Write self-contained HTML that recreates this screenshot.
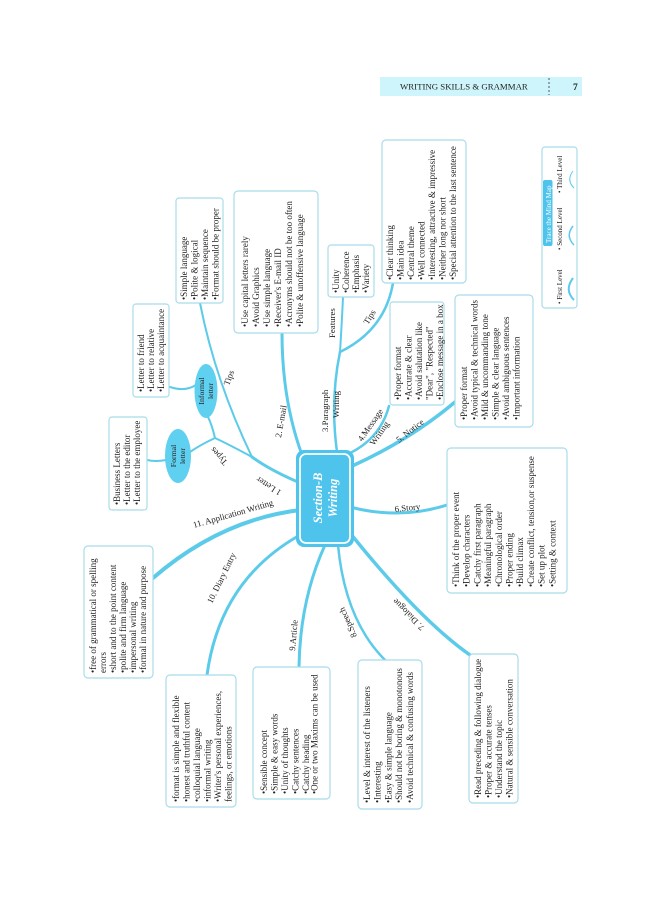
<!DOCTYPE html>
<html><head><meta charset="utf-8"><style>
html,body{margin:0;padding:0;background:#fff;width:660px;height:900px;overflow:hidden}
svg{display:block}
text{font-family:"Liberation Serif",serif;fill:#222}
.b text{font-size:9px}
.box{fill:#fff;stroke:#a9dcea;stroke-width:1.2}
.ln{fill:none;stroke:#5ccbea;stroke-linecap:round}
.lb{font-size:8.8px}
</style></head><body>
<svg width="660" height="900" viewBox="0 0 660 900">
<rect x="380" y="77" width="202" height="19" fill="#cdf5fb"/>
<text x="400" y="89.5" font-size="8.8" fill="#111">WRITING SKILLS &amp; GRAMMAR</text>
<line x1="549" y1="78" x2="549" y2="95" stroke="#333" stroke-width="0.8" stroke-dasharray="2,2"/>
<text x="573" y="90" font-size="9.5" font-weight="bold" fill="#111">7</text>

<g class="ln">
<path d="M300 510 Q220 520 153 578" stroke-width="4"/>
<path d="M300 535 Q220 580 207 675" stroke-width="3"/>
<path d="M325 545 Q300 600 299 667" stroke-width="3"/>
<path d="M338 545 Q345 620 385 660" stroke-width="2.5"/>
<path d="M350 533 Q420 620 470 655" stroke-width="3.5"/>
<path d="M350 507 Q400 520 447 505" stroke-width="3"/>
<path d="M350 467 Q410 440 455 402" stroke-width="3.5"/>
<path d="M346 455 Q380 440 389 406" stroke-width="2.5"/>
<path d="M337 452 Q330 400 340 352" stroke-width="2.5"/>
<path d="M340 352 Q342 320 343 297" stroke-width="2"/>
<path d="M340 352 Q385 330 393 283" stroke-width="2.5"/>
<path d="M302 455 Q282 400 282 333" stroke-width="3"/>
<path d="M298 482 Q270 470 252 457" stroke-width="3"/>
<path d="M252 457 Q215 380 200 303" stroke-width="2"/>
<path d="M252 457 Q230 445 215 438" stroke-width="2"/>
<path d="M215 438 Q212 425 208 417" stroke-width="2"/>
<path d="M215 438 Q200 445 190 452" stroke-width="2"/>
<path d="M196 385 Q185 392 170 387" stroke-width="2"/>
<path d="M166 460 Q155 462 147 460" stroke-width="2"/>
</g>
<ellipse cx="206" cy="391" rx="11.5" ry="27" fill="#5fd0f0"/>
<ellipse cx="178" cy="456" rx="13" ry="27" fill="#5fd0f0"/>
<g transform="translate(205,391) rotate(-90)"><text x="0" y="-1" font-size="7.8" text-anchor="middle">Informal</text><text x="0" y="8" font-size="7.8" text-anchor="middle">letter</text></g>
<g transform="translate(177,456) rotate(-90)"><text x="0" y="-1" font-size="7.8" text-anchor="middle">Formal</text><text x="0" y="8" font-size="7.8" text-anchor="middle">letter</text></g>

<rect x="296" y="450" width="58" height="97" rx="8" fill="#4ec3ec"/>
<rect x="300" y="454" width="50" height="89" rx="6" fill="#4ec3ec" stroke="#fff" stroke-width="1.8"/>
<g transform="translate(322,498) rotate(-90)"><text x="0" y="0" text-anchor="middle" font-size="12.5" font-weight="bold" font-style="italic" style="fill:#fff">Section-B</text><text x="0" y="15" text-anchor="middle" font-size="12.5" font-weight="bold" font-style="italic" style="fill:#fff">Writing</text></g>

<g class="lb">
<text transform="translate(194,528) rotate(-16)">11. Application Writing</text>
<text transform="translate(212,604) rotate(-64)">10. Diary Entry</text>
<text transform="translate(295,651) rotate(-85)">9.Article</text>
<text transform="translate(357,636) rotate(-114)">8.Speech</text>
<text transform="translate(425,627) rotate(-135)">7. Dialogue</text>
<text transform="translate(395,512) rotate(-6)">6.Story</text>
<text transform="translate(399,443) rotate(-38)">5. Notice</text>
<text transform="translate(362,442) rotate(-55)">4.Message</text>
<text transform="translate(374,446) rotate(-55)">Writing</text>
<text transform="translate(328,432) rotate(-90)">3.Paragraph</text>
<text transform="translate(339,418) rotate(-90)">Writing</text>
<text transform="translate(335,338) rotate(-90)">Features</text>
<text transform="translate(368,325) rotate(-58)">Tips</text>
<text transform="translate(281,438) rotate(-80)">2. E-mail</text>
<text transform="translate(282,491) rotate(-148)">1 Letter</text>
<text transform="translate(228,462) rotate(-132)">Types</text>
<text transform="translate(229,386) rotate(-70)">Tips</text>
</g>

<g class="b">
<rect class="box" x="382" y="140" width="84" height="143" rx="4"/>
<g transform="translate(385,280) rotate(-90)">
<text y="8">•Clear thinking</text><text y="18.5">•Main idea</text><text y="29">•Central theme</text><text y="39.5">•Well connected</text><text y="50">•Interesting, attractive &amp; impressive</text><text y="60.5">•Neither long nor short</text><text y="71">•Special attention to the last sentence</text></g>

<rect class="box" x="328" y="245" width="46" height="52" rx="3"/>
<g transform="translate(331,293) rotate(-90)">
<text y="8">•Unity</text><text y="18">•Coherence</text><text y="28">•Emphasis</text><text y="38">•Variety</text></g>

<rect class="box" x="234" y="191" width="84" height="142" rx="4"/>
<g transform="translate(240,327) rotate(-90)">
<text y="8">•Use capital letters rarely</text><text y="19">•Avoid Graphics</text><text y="30">•Use simple language</text><text y="41">•Receiver's E-mail ID</text><text y="52">•Acronyms should not be too often</text><text y="63">•Polite &amp; unoffensive language</text></g>

<rect class="box" x="176" y="198" width="47" height="105" rx="3"/>
<g transform="translate(179,300) rotate(-90)">
<text y="8">•Simple language</text><text y="18.5">•Polite &amp; logical</text><text y="29">•Maintain sequence</text><text y="39.5">•Format should be proper</text></g>

<rect class="box" x="133" y="304" width="36" height="93" rx="3"/>
<g transform="translate(136,392) rotate(-90)">
<text y="8">•Letter to friend</text><text y="18">•Letter to relative</text><text y="28">•Letter to acquaintance</text></g>

<rect class="box" x="109" y="417" width="38" height="93" rx="3"/>
<g transform="translate(112,505) rotate(-90)">
<text y="8">•Business Letters</text><text y="18">•Letter to the editor</text><text y="28">•Letter to the employee</text></g>

<rect class="box" x="390" y="302" width="54" height="103" rx="3"/>
<g transform="translate(393,400) rotate(-90)">
<text y="8">•Proper format</text><text y="18.5">•Accurate &amp; clear</text><text y="29">•Avoid salutation  like</text><text y="39.5">  "Dear", "Respected"</text><text y="50">•Enclose message in a box</text></g>

<rect class="box" x="455" y="295" width="78" height="132" rx="4"/>
<g transform="translate(459,420) rotate(-90)">
<text y="8">•Proper format</text><text y="18.5">•Avoid typical &amp; technical words</text><text y="29">•Mild &amp; uncommanding tone</text><text y="39.5">•Simple &amp; clear language</text><text y="50">•Avoid ambiguous sentences</text><text y="60.5">•Important information</text></g>

<rect class="box" x="447" y="448" width="120" height="145" rx="4"/>
<g transform="translate(451,587) rotate(-90)">
<text y="8">•Think of the proper event</text><text y="18.7">•Develop characters</text><text y="29.4">•Catchy first paragraph</text><text y="40.1">•Meaningful paragraph</text><text y="50.8">•Chronological order</text><text y="61.5">•Proper ending</text><text y="72.2">•Build climax</text><text y="82.9">•Create conflict, tension,or suspense</text><text y="93.6">•Set up plot</text><text y="104.3">•Setting &amp; context</text></g>

<rect class="box" x="84" y="546" width="69" height="132" rx="4"/>
<g transform="translate(88,673) rotate(-90)">
<text y="8">•free of grammatical or spelling</text><text y="18">   errors</text><text y="28">•short and to the point content</text><text y="38">•polite and firm language</text><text y="48">•impersonal writing</text><text y="58">•formal in nature and purpose</text></g>

<rect class="box" x="166" y="675" width="70" height="132" rx="4"/>
<g transform="translate(171,802) rotate(-90)">
<text y="8">•format is simple and flexible</text><text y="18.5">•honest and truthful content</text><text y="29">•colloquial language</text><text y="39.5">•informal writing</text><text y="50">•Writer's personal experiences,</text><text y="60.5">  feelings, or emotions</text></g>

<rect class="box" x="253" y="667" width="77" height="132" rx="4"/>
<g transform="translate(259,794) rotate(-90)">
<text y="8">•Sensible concept</text><text y="18.5">•Simple &amp; easy words</text><text y="29">•Unity of thoughts</text><text y="39.5">•Catchy sentences</text><text y="50">•Catchy heading</text><text y="58.5">•One or two Maxims can be used</text></g>

<rect class="box" x="358" y="660" width="64" height="149" rx="4"/>
<g transform="translate(362,803) rotate(-90)">
<text y="8">•Level &amp; interest of the listeners</text><text y="18.7">•Interesting</text><text y="29.4">•Easy &amp; simple language</text><text y="40.1">•Should not be boring &amp; monotonous</text><text y="50.8">•Avoid technical &amp; confusing words</text></g>

<rect class="box" x="469" y="654" width="49" height="149" rx="4"/>
<g transform="translate(473,798) rotate(-90)">
<text y="8">•Read preceding &amp; following dialogue</text><text y="18.5">•Proper &amp; accurate tenses</text><text y="29">•Understand the topic</text><text y="39.5">•Natural &amp; sensible conversation</text></g>
</g>

<rect class="box" x="542" y="147" width="35" height="161" rx="3"/>
<rect x="543" y="180" width="9.5" height="66" rx="2" fill="#4ec3ec"/>
<g transform="translate(550.8,243) rotate(-90)"><text font-size="7" style="fill:#fff">Trace the  Mind Map</text></g>
<g transform="translate(562,304) rotate(-90)"><text font-size="7">• First Level</text></g>
<g transform="translate(562,250) rotate(-90)"><text font-size="7">• Second Level</text></g>
<g transform="translate(562,193) rotate(-90)"><text font-size="7">• Third Level</text></g>
<path d="M574 300 Q564 290 573 278" fill="none" stroke="#5ccbea" stroke-width="2"/>
<path d="M574 245 Q565 236 573 226" fill="none" stroke="#5ccbea" stroke-width="1.5"/>
<path d="M574 188 Q566 180 573 171" fill="none" stroke="#5ccbea" stroke-width="1"/>
</svg>
</body></html>
